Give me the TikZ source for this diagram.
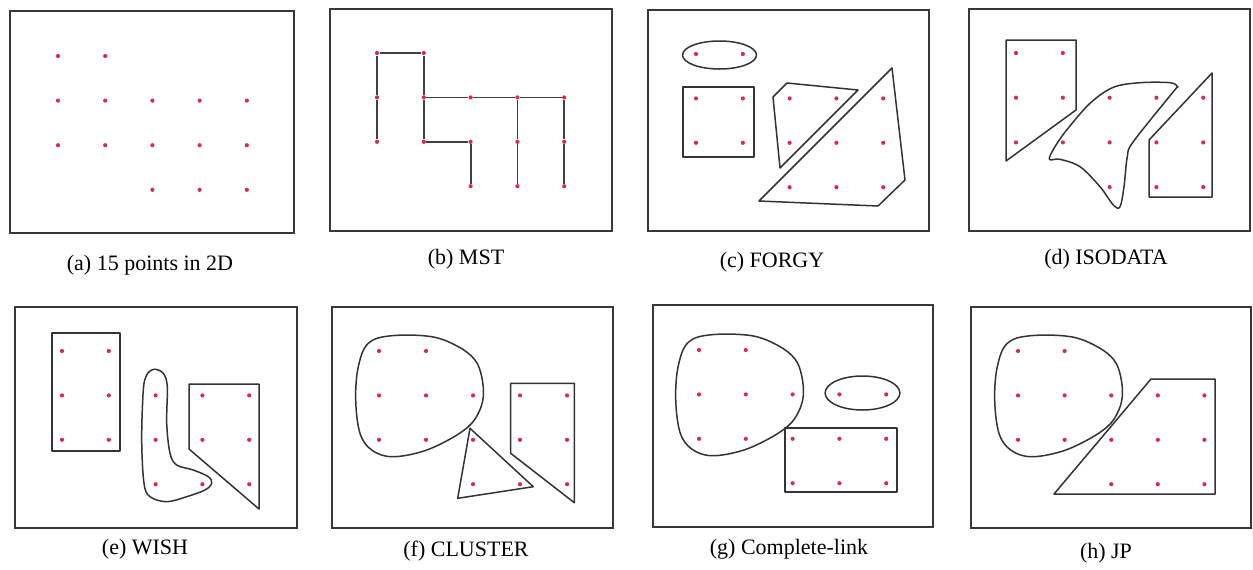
\documentclass[tikz,border=0pt]{standalone}
\usepackage{fontspec}
\setmainfont{Liberation Serif}
\begin{document}
\begin{tikzpicture}[x=0.5pt,y=-0.5pt,
  frame/.style={draw=black!78,line width=0.9pt},
  clus/.style={draw=black!80,line width=0.75pt,line join=round},
  edge/.style={draw=black!75,line width=0.9pt},
  dot/.style={circle,fill=ptred,inner sep=0pt,minimum size=2.1pt},
  capt/.style={font=\fontsize{11}{13}\selectfont,inner sep=0pt}]
\definecolor{ptred}{rgb}{0.82,0.18,0.32}
\useasboundingbox (0,0) rectangle (1253,569);
\def\ptlist{1/1,2/1,1/2,2/2,3/2,4/2,5/2,1/3,2/3,3/3,4/3,5/3,3/4,4/4,5/4}
\def\blob{(-10.7,-7.7) (12.7,-15.3) (52.7,-14.3) (79.3,-4.3) (96,9) (102.7,25.7) (104.3,45.7) (99.3,62.3) (89.3,75.7) (69.3,89) (42.7,100.7) (12.7,105.7) (-7.3,99) (-19,82.3) (-23.3,49) (-20.7,15.7)}
% frames
\draw[frame] (10,11) rectangle (294,233);
\draw[frame] (330,9) rectangle (612,231);
\draw[frame] (648,10) rectangle (929,231);
\draw[frame] (969,9) rectangle (1250,231);
\draw[frame] (15,307) rectangle (297,528);
\draw[frame] (332,307) rectangle (613,528);
\draw[frame] (653,305) rectangle (933,527);
\draw[frame] (971,307) rectangle (1251,528);
% captions
\node[capt] (capa) at (150,265) {(a) 15 points in 2D};
\node[capt] (capb) at (466,259) {(b) MST};
\node[capt] (capc) at (772,262) {(c) FORGY};
\node[capt] (capd) at (1106,259) {(d) ISODATA};
\node[capt] (cape) at (145,549) {(e) WISH};
\node[capt] (capf) at (466,551) {(f) CLUSTER};
\node[capt] (capg) at (789,549) {(g) Complete-link};
\node[capt] (caph) at (1106,553) {(h) JP};
% (a)
\begin{scope}[shift={(58,56)}]
\foreach \c/\r in \ptlist \node[dot] (a-\c-\r) at ({(\c-1)*47.2},{(\r-1)*44.6}) {};
\end{scope}
% (b) MST
\begin{scope}[shift={(377,53)}]
\foreach \c/\r in \ptlist \node[dot] (b-\c-\r) at ({(\c-1)*46.8},{(\r-1)*44.4}) {};
\draw[edge] (b-1-3) -- (b-1-2) -- (b-1-1) -- (b-2-1) -- (b-2-2) -- (b-2-3) -- (b-3-3) -- (b-3-4);
\draw[edge] (b-2-2) -- (b-3-2) -- (b-4-2) -- (b-5-2) -- (b-5-3) -- (b-5-4);
\draw[edge] (b-4-2) -- (b-4-3) -- (b-4-4);
\end{scope}
% (c) FORGY
\begin{scope}[shift={(696,54)}]
\foreach \c/\r in \ptlist \node[dot] (c-\c-\r) at ({(\c-1)*46.8},{(\r-1)*44.4}) {};
\draw[clus] (23.5,1) ellipse [x radius=18.5pt, y radius=7pt];
\draw[clus] (-13,33) rectangle (58,103);
\draw[clus] (77,43) -- (91,29) -- (162,36) -- (84,114) -- cycle;
\draw[clus] (196,14) -- (209,126) -- (182,152) -- (63,147) -- cycle;
\end{scope}
% (d) ISODATA
\begin{scope}[shift={(1016,53)}]
\foreach \c/\r in \ptlist \node[dot] (d-\c-\r) at ({(\c-1)*46.8},{(\r-1)*44.7}) {};
\draw[clus] (-10,-13) -- (60,-13) -- (60,57) -- (-10,108) -- cycle;
\draw[clus] plot[smooth cycle, tension=0.55] coordinates {(33.3,106.3) (44,106.3) (64,113.7) (84,133.7) (97.3,152) (104,153.7) (108,133.7) (111.3,103.7) (117.3,88.7) (157.3,38.7) (161.3,33.7) (154,29.7) (124,29.7) (97.3,34.3) (74,50.3) (50.7,77) (39,93.7)};
\draw[clus] (196,20) -- (196,144) -- (133,144) -- (133,87) -- cycle;
\end{scope}
% (e) WISH
\begin{scope}[shift={(62,351)}]
\foreach \c/\r in \ptlist \node[dot] (e-\c-\r) at ({(\c-1)*46.8},{(\r-1)*44.4}) {};
\draw[clus] (-10,-18) rectangle (58,100);
\draw[clus] plot[smooth cycle, tension=0.55] coordinates {(92,18.3) (101.3,22.3) (105.3,35.7) (104.7,72.3) (108,102.3) (114.7,114) (131.3,119) (146.3,125.7) (149.7,132.3) (143,139) (124.7,145.7) (104.7,150.7) (88,145.7) (82,132.3) (79.7,89) (81.3,39) (84.7,24)};
\draw[clus] (127,33) -- (197,33) -- (197,158) -- (127,98) -- cycle;
\end{scope}
% (f) CLUSTER
\begin{scope}[shift={(379,351)}]
\foreach \c/\r in \ptlist \node[dot] (f-\c-\r) at ({(\c-1)*47},{(\r-1)*44.4}) {};
\draw[clus] plot[smooth cycle, tension=0.6] coordinates {\blob};
\draw[clus] (91,77.3) -- (154.3,135.7) -- (78.7,147.3) -- cycle;
\draw[clus] (131.7,32.3) -- (195.3,32.3) -- (195.3,151.7) -- (131.7,102.3) -- cycle;
\end{scope}
% (g) Complete-link
\begin{scope}[shift={(699,350)}]
\foreach \c/\r in \ptlist \node[dot] (g-\c-\r) at ({(\c-1)*46.8},{(\r-1)*44.4}) {};
\draw[clus] plot[smooth cycle, tension=0.6] coordinates {\blob};
\draw[clus] (163.5,43) ellipse [x radius=18.7pt, y radius=8.5pt];
\draw[clus] (86,78) rectangle (198,142);
\end{scope}
% (h) JP
\begin{scope}[shift={(1018,351)}]
\foreach \c/\r in \ptlist \node[dot] (h-\c-\r) at ({(\c-1)*46.6},{(\r-1)*44.4}) {};
\draw[clus] plot[smooth cycle, tension=0.6] coordinates {\blob};
\draw[clus] (133,28) -- (197,28) -- (197,143) -- (36,143) -- cycle;
\end{scope}
\end{tikzpicture}
\end{document}
